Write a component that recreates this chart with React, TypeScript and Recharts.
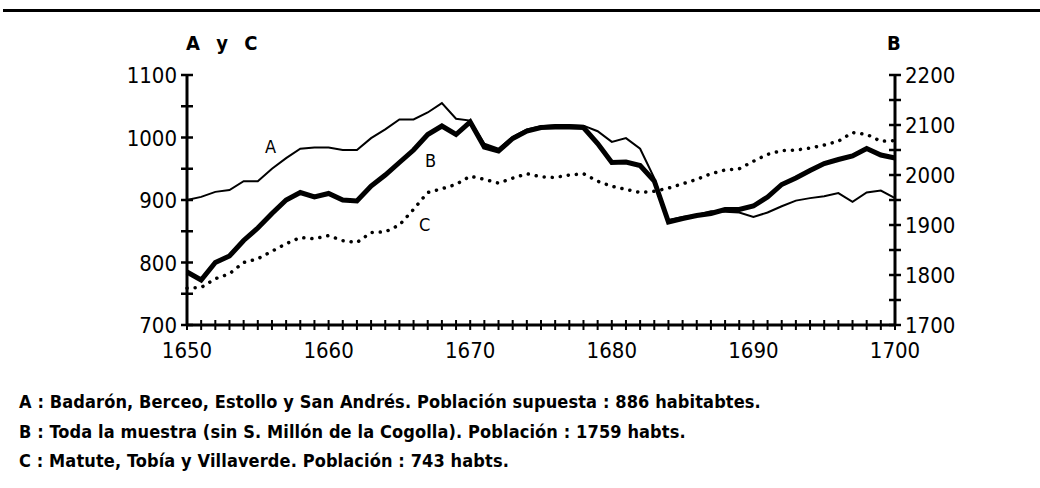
import React from "react";
import { LineChart, Line, XAxis, YAxis } from "recharts";

// años del eje horizontal
const years = [
  1650, 1651, 1652, 1653, 1654, 1655, 1656, 1657, 1658, 1659,
  1660, 1661, 1662, 1663, 1664, 1665, 1666, 1667, 1668, 1669,
  1670, 1671, 1672, 1673, 1674, 1675, 1676, 1677, 1678, 1679,
  1680, 1681, 1682, 1683, 1684, 1685, 1686, 1687, 1688, 1689,
  1690, 1691, 1692, 1693, 1694, 1695, 1696, 1697, 1698, 1699,
  1700,
];

// A: Badarón, Berceo, Estollo y San Andrés (eje izquierdo)
const serieA = [
  900, 905, 913, 916, 930, 930, 950, 967, 982, 984,
  984, 980, 980, 999, 1013, 1029, 1029, 1040, 1055, 1030,
  1027, 990, 982, 1001, 1013, 1018, 1020, 1020, 1019, 1010,
  993, 999, 982, 935, 868, 873, 876, 882, 881, 880,
  873, 880, 890, 899, 903, 906, 911, 897, 912, 915,
  903,
];

// B: toda la muestra (eje derecho)
const serieB = [
  1806, 1790, 1825, 1838, 1869, 1894, 1923, 1950, 1965, 1956,
  1963, 1950, 1948, 1978, 2000, 2025, 2050, 2081, 2098, 2081,
  2106, 2056, 2048, 2073, 2088, 2095, 2096, 2096, 2095, 2063,
  2025, 2026, 2019, 1988, 1906, 1913, 1919, 1923, 1931, 1931,
  1938, 1956, 1981, 1994, 2009, 2023, 2031, 2038, 2053, 2040,
  2034,
];

// C: Matute, Tobía y Villaverde (eje izquierdo)
const serieC = [
  759, 760, 774, 782, 800, 806, 818, 830, 840, 838,
  843, 835, 832, 848, 849, 860, 885, 912, 918, 925,
  938, 933, 927, 935, 942, 937, 936, 940, 942, 930,
  922, 917, 912, 914, 919, 926, 933, 942, 948, 950,
  962, 973, 979, 980, 983, 988, 994, 1008, 1005, 994,
  995,
];

const xLabels = [1650, 1660, 1670, 1680, 1690, 1700];
const leftTicks = [700, 750, 800, 850, 900, 950, 1000, 1050, 1100];
const leftLabels = [700, 800, 900, 1000, 1100];
const rightTicks = [1700, 1750, 1800, 1850, 1900, 1950, 2000, 2050, 2100, 2150, 2200];
const rightLabels = [1700, 1800, 1900, 2000, 2100, 2200];

const notes = [
  { key: "A", text: " : Badarón, Berceo, Estollo y San Andrés. Población supuesta : 886 habitabtes." },
  { key: "B", text: " : Toda la muestra (sin S. Millón de la Cogolla). Población : 1759 habts." },
  { key: "C", text: " : Matute, Tobía y Villaverde. Población : 743 habts." },
];

const data = years.map((year, i) => ({
  year,
  a: serieA[i],
  b: serieB[i],
  c: serieC[i],
}));

const FONT = '"DejaVu Sans Condensed", "DejaVu Sans", sans-serif';

function XTick({ x, y, payload }: any) {
  const show = xLabels.includes(payload.value);
  return (
    <g>
      <line x1={x} x2={x} y1={y - 5} y2={y + 5} stroke="#000" strokeWidth={2} />
      {show && (
        <text x={x} y={y + 33} textAnchor="middle" fontFamily={FONT} fontSize={22} fill="#000">
          {payload.value}
        </text>
      )}
    </g>
  );
}

function LeftTick({ x, y, payload }: any) {
  const show = leftLabels.includes(payload.value);
  return (
    <g>
      <line x1={x - 6} x2={x + 6} y1={y} y2={y} stroke="#000" strokeWidth={2.5} />
      {show && (
        <text x={x - 10} y={y + 8} textAnchor="end" fontFamily={FONT} fontSize={22} fill="#000">
          {payload.value}
        </text>
      )}
    </g>
  );
}

function RightTick({ x, y, payload }: any) {
  const show = rightLabels.includes(payload.value);
  return (
    <g>
      <line x1={x - 6} x2={x + 6} y1={y} y2={y} stroke="#000" strokeWidth={2.5} />
      {show && (
        <text x={x + 10} y={y + 8} textAnchor="start" fontFamily={FONT} fontSize={22} fill="#000">
          {payload.value}
        </text>
      )}
    </g>
  );
}

const label = (left: number, top: number, size = 18, bold = false): React.CSSProperties => ({
  position: "absolute",
  left,
  top,
  fontFamily: FONT,
  fontSize: size,
  fontWeight: bold ? 700 : 400,
  lineHeight: 1,
  color: "#000",
  whiteSpace: "nowrap",
});

export default function App() {
  return (
    <div style={{ position: "absolute", left: 0, top: 0, width: 1040, height: 488, background: "#fff", overflow: "hidden" }}>
      <div style={{ position: "absolute", left: 3, top: 9, width: 1037, height: 3, background: "#000" }} />

      <LineChart
        width={1040}
        height={400}
        data={data}
        margin={{ top: 75, right: 0, left: 0, bottom: 35 }}
      >
        <XAxis
          dataKey="year"
          type="number"
          domain={[1650, 1700]}
          ticks={years}
          interval={0}
          height={40}
          tickSize={0}
          tickMargin={0}
          tick={<XTick />}
          axisLine={{ stroke: "#000", strokeWidth: 3 }}
          tickLine={false}
        />
        <YAxis
          yAxisId="left"
          orientation="left"
          width={187}
          domain={[700, 1100]}
          ticks={leftTicks}
          interval={0}
          tickSize={0}
          tickMargin={0}
          tick={<LeftTick />}
          axisLine={{ stroke: "#000", strokeWidth: 3 }}
          tickLine={false}
        />
        <YAxis
          yAxisId="right"
          orientation="right"
          width={145}
          domain={[1700, 2200]}
          ticks={rightTicks}
          interval={0}
          tickSize={0}
          tickMargin={0}
          tick={<RightTick />}
          axisLine={{ stroke: "#000", strokeWidth: 3 }}
          tickLine={false}
        />
        <Line
          yAxisId="left"
          dataKey="c"
          type="linear"
          stroke="#000"
          strokeWidth={3.5}
          strokeDasharray="0.1 8"
          strokeLinecap="round"
          dot={false}
          isAnimationActive={false}
        />
        <Line
          yAxisId="left"
          dataKey="a"
          type="linear"
          stroke="#000"
          strokeWidth={2}
          dot={false}
          isAnimationActive={false}
        />
        <Line
          yAxisId="right"
          dataKey="b"
          type="linear"
          stroke="#000"
          strokeWidth={5}
          dot={false}
          isAnimationActive={false}
        />
      </LineChart>

      <div style={{ ...label(186, 33, 20, true), letterSpacing: 3, wordSpacing: 4 }}>A y C</div>
      <div style={label(887, 33, 20, true)}>B</div>
      <div style={label(265, 138, 18)}>A</div>
      <div style={label(425, 152, 18)}>B</div>
      <div style={label(419, 216, 18)}>C</div>

      {notes.map((n, i) => (
        <div key={n.key} style={{ ...label(19, 393 + i * 29.5, 18, true), letterSpacing: 0.12 }}>
          {n.key}
          {n.text}
        </div>
      ))}
    </div>
  );
}
